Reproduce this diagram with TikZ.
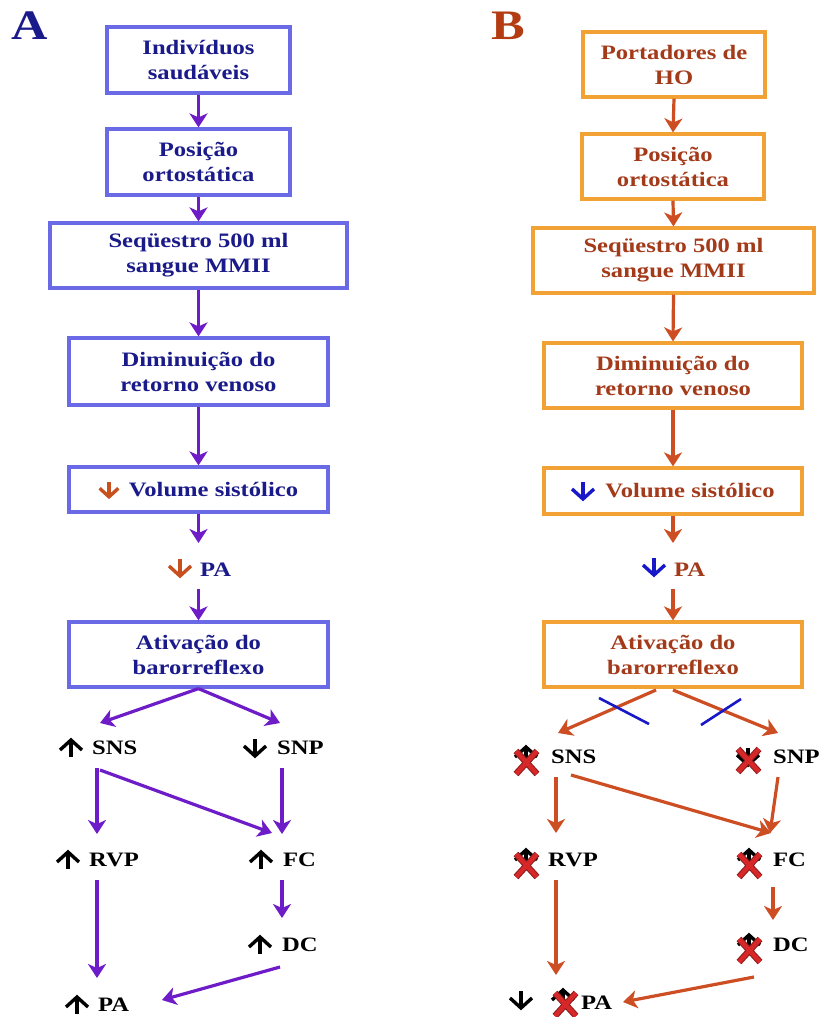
\documentclass[tikz,border=0pt]{standalone}
\usepackage{fontspec}
\setmainfont{Liberation Serif}[FakeStretch=1.2]
\usetikzlibrary{arrows.meta}
\definecolor{Aborder}{HTML}{6A6AE6}
\definecolor{Atext}{HTML}{1A1A8A}
\definecolor{Apurple}{HTML}{6E1CC8}
\definecolor{Aorange}{HTML}{C8501E}
\definecolor{Bborder}{HTML}{F2A234}
\definecolor{Btext}{HTML}{A33A1A}
\definecolor{Barrow}{HTML}{CC4E22}
\definecolor{Bblue}{HTML}{1818C8}
\definecolor{Bletter}{HTML}{B43C12}
\definecolor{Xred}{HTML}{D62828}
\definecolor{Xdark}{HTML}{8A1A1A}
\begin{document}
\begin{tikzpicture}[x=1pt,y=-1pt,
  txt/.style={font=\fontsize{20.5}{25}\selectfont\bfseries},
  boxA/.style={txt, draw=Aborder, line width=3.2pt, align=center, text=Atext, inner sep=0pt},
  boxB/.style={txt, draw=Bborder, line width=3.2pt, align=center, text=Btext, inner sep=0pt},
  arrA/.style={draw=Apurple, line width=3.2pt, -{Stealth[length=14pt,width=18pt,inset=4pt]}},
  arrB/.style={draw=Barrow, line width=3.2pt, -{Stealth[length=14pt,width=18pt,inset=4pt]}},
  lbl/.style={txt, text=black, inner sep=0pt, anchor=west},
  uparr/.pic={
    \draw[line width=3.4pt, line cap=butt] (0,9) -- (0,-7);
    \draw[line width=3.4pt, line join=miter, line cap=butt] (-11,2) -- (0,-8) -- (11,2);
  },
  xmark/.pic={
    \draw[line width=6.5pt, Xdark] (-10,-11) -- (11,12) (11,-11) -- (-10,12);
    \draw[line width=4.5pt, Xred] (-10,-11) -- (11,12) (11,-11) -- (-10,12);
  }
]
\useasboundingbox[fill=white] (0,0) rectangle (822,1017);

% ---------------- Panel A ----------------
\node[font=\fontsize{42}{42}\selectfont\bfseries, text=Atext, inner sep=0pt] (labA) at (30,26) {A};
\node[boxA, minimum width=183pt, minimum height=66pt] (a1) at (198.5,60) {Indivíduos\\saudáveis};
\node[boxA, minimum width=183pt, minimum height=66pt] (a2) at (198.5,162) {Posição\\ortostática};
\node[boxA, minimum width=297pt, minimum height=65pt] (a3) at (198.5,255.5) {Seqüestro 500 ml\\sangue MMII};
\node[boxA, minimum width=259pt, minimum height=67pt] (a4) at (198.5,371.5) {Diminuição do\\retorno venoso};
\node[boxA, minimum width=259pt, minimum height=45pt] (a5) at (198.5,489.5) {\hspace*{30pt}Volume sistólico};
\pic[Aorange, rotate=180, scale=0.85] at (109,490) {uparr};
\node[lbl, text=Atext] (apa) at (200,570) {PA};
\pic[Aorange, rotate=180] at (180,568) {uparr};
\node[boxA, minimum width=259pt, minimum height=65pt] (a6) at (198.5,654.5) {Ativação do\\barorreflexo};

\coordinate (apaTop) at (198.5,543);
\coordinate (apaBot) at (198.5,589);
\draw[arrA] (a1.south) -- (a2.north);
\draw[arrA] (a2.south) -- (a3.north);
\draw[arrA] (a3.south) -- (a4.north);
\draw[arrA] (a4.south) -- (a5.north);
\draw[arrA] (a5.south) -- (apaTop);
\draw[arrA] (apaBot) -- (a6.north);

\node[lbl] (asns) at (92,748) {SNS};
\pic[black] at (71,748) {uparr};
\node[lbl] (asnp) at (277,748) {SNP};
\pic[black, rotate=180] at (255,748) {uparr};
\node[lbl] (arvp) at (89,860) {RVP};
\pic[black] at (68,860) {uparr};
\node[lbl] (afc) at (283,860) {FC};
\pic[black] at (261,860) {uparr};
\node[lbl] (adc) at (282,945) {DC};
\pic[black] at (260,945) {uparr};
\node[lbl] (apb) at (98,1005) {PA};
\pic[black] at (77,1005) {uparr};

\coordinate (asnsIn) at (100,723);
\coordinate (asnpIn) at (280,723);
\coordinate (asnsOut) at (97,768);
\coordinate (asnsOut2) at (100,770);
\coordinate (afcIn) at (272,833);
\coordinate (asnpOut) at (282,768);
\coordinate (afcIn2) at (282,834);
\coordinate (arvpIn) at (97,834);
\coordinate (arvpOut) at (97,880);
\coordinate (apbIn) at (97,978);
\coordinate (afcOut) at (282,880);
\coordinate (adcIn) at (282,918);
\coordinate (adcOut) at (280,967);
\coordinate (apbIn2) at (162,1000);

\draw[arrA] (a6.south) -- (asnsIn);
\draw[arrA] (a6.south) -- (asnpIn);
\draw[arrA] (asnsOut) -- (arvpIn);
\draw[arrA] (asnsOut2) -- (afcIn);
\draw[arrA] (asnpOut) -- (afcIn2);
\draw[arrA] (arvpOut) -- (apbIn);
\draw[arrA] (afcOut) -- (adcIn);
\draw[arrA] (adcOut) -- (apbIn2);

% ---------------- Panel B ----------------
\node[font=\fontsize{42}{42}\selectfont\bfseries, text=Bletter, inner sep=0pt] (labB) at (508,26) {B};
\node[boxB, minimum width=182pt, minimum height=65pt] (b1) at (674,64.5) {Portadores de\\HO};
\node[boxB, minimum width=182pt, minimum height=65pt] (b2) at (673,166.5) {Posição\\ortostática};
\node[boxB, minimum width=281pt, minimum height=65pt] (b3) at (673.5,260.5) {Seqüestro 500 ml\\sangue MMII};
\node[boxB, minimum width=258pt, minimum height=65pt] (b4) at (673,375.5) {Diminuição do\\retorno venoso};
\node[boxB, minimum width=258pt, minimum height=46pt] (b5) at (673,491) {\hspace*{34pt}Volume sistólico};
\pic[Bblue, rotate=180] at (583,491) {uparr};
\node[lbl, text=Btext] (bpa) at (674,570) {PA};
\pic[Bblue, rotate=180] at (654,567) {uparr};
\node[boxB, minimum width=258pt, minimum height=65pt] (b6) at (673,654.5) {Ativação do\\barorreflexo};

\coordinate (bpaTop) at (673,543);
\coordinate (bpaBot) at (673,589);
\draw[arrB] (b1.south) -- (b2.north);
\draw[arrB] (b2.south) -- (b3.north);
\draw[arrB] (b3.south) -- (b4.north);
\draw[arrB] (b4.south) -- (b5.north);
\draw[arrB] (b5.south) -- (bpaTop);
\draw[arrB] (bpaBot) -- (b6.north);

\node[lbl] (bsns) at (551,757) {SNS};
\pic[black] at (526,755) {uparr};
\pic at (526,762) {xmark};
\node[lbl] (bsnp) at (773,757) {SNP};
\pic[black, rotate=180] at (748,757) {uparr};
\pic at (748,760) {xmark};
\node[lbl] (brvp) at (548,860) {RVP};
\pic[black] at (526,858) {uparr};
\pic at (526,865) {xmark};
\node[lbl] (bfc) at (773,860) {FC};
\pic[black] at (749,858) {uparr};
\pic at (749,865) {xmark};
\node[lbl] (bdc) at (773,945) {DC};
\pic[black] at (749,943) {uparr};
\pic at (749,950) {xmark};
\node[lbl] (bpb) at (581,1003) {PA};
\pic[black, rotate=180] at (521,1000) {uparr};
\pic[black] at (563,998) {uparr};
\pic at (565,1004) {xmark};

\coordinate (b6L) at (656,690);
\coordinate (b6R) at (673,690);
\coordinate (bsnsIn) at (558,733);
\coordinate (bsnpIn) at (778,733);
\coordinate (bsnsOut) at (556,777);
\coordinate (bsnsOut2) at (571,775);
\coordinate (bfcIn) at (771,833);
\coordinate (bsnpOut) at (778,777);
\coordinate (bfcIn2) at (770,833);
\coordinate (brvpIn) at (556,833);
\coordinate (brvpOut) at (556,880);
\coordinate (bpbIn) at (556,975);
\coordinate (bfcOut) at (773,887);
\coordinate (bdcIn) at (773,920);
\coordinate (bdcOut) at (754,977);
\coordinate (bpbIn2) at (623,1002);

\draw[arrB] (b6L) -- (bsnsIn);
\draw[arrB] (b6R) -- (bsnpIn);
\draw[arrB] (bsnsOut) -- (brvpIn);
\draw[arrB] (bsnsOut2) -- (bfcIn);
\draw[arrB] (bsnpOut) -- (bfcIn2);
\draw[arrB] (brvpOut) -- (bpbIn);
\draw[arrB] (bfcOut) -- (bdcIn);
\draw[arrB] (bdcOut) -- (bpbIn2);

\coordinate (cutL1) at (599,698);
\coordinate (cutL2) at (649,724);
\coordinate (cutR1) at (741,699);
\coordinate (cutR2) at (701,725);
\draw[Bblue, line width=2.6pt] (cutL1) -- (cutL2);
\draw[Bblue, line width=2.6pt] (cutR1) -- (cutR2);
\end{tikzpicture}
\end{document}
